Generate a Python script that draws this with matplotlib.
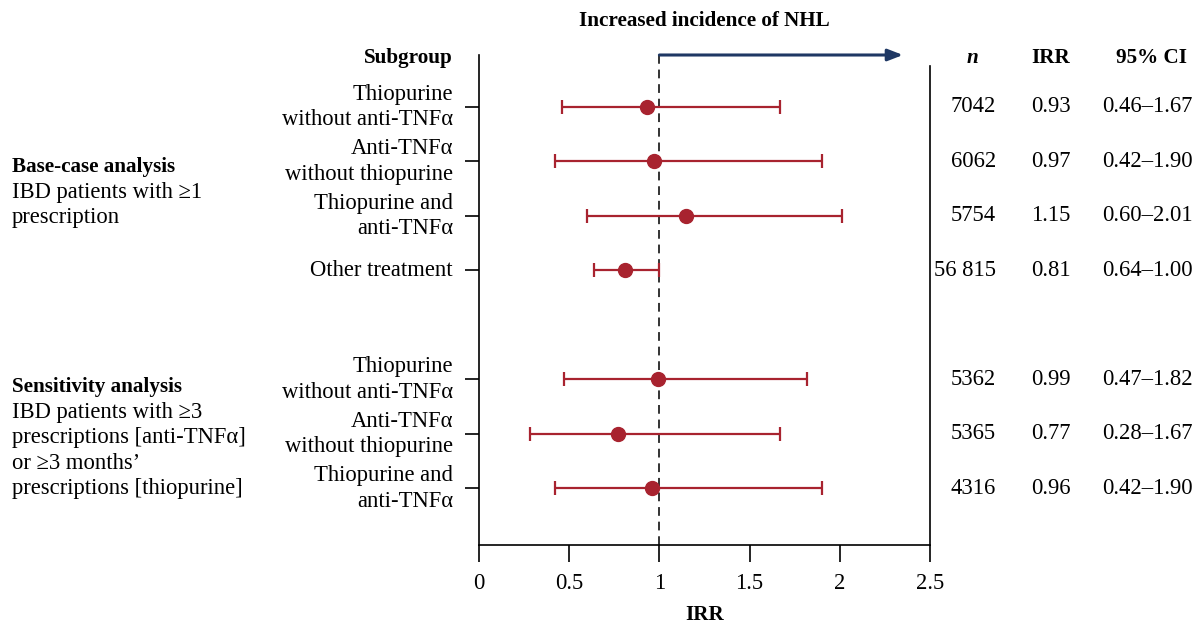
import numpy as np
import matplotlib
matplotlib.use("Agg")
import matplotlib.pyplot as plt
import matplotlib.transforms as mtransforms

plt.rcParams['font.family'] = ['Liberation Serif', 'DejaVu Serif']

red = '#a8232f'
navy = '#1f3864'

subgroups = ['Thiopurine\nwithout anti-TNFα', 'Anti-TNFα\nwithout thiopurine',
             'Thiopurine and\nanti-TNFα', 'Other treatment',
             'Thiopurine\nwithout anti-TNFα', 'Anti-TNFα\nwithout thiopurine',
             'Thiopurine and\nanti-TNFα']
rows = [0, 1, 2, 3, 5, 6, 7]
n_vals = ['7042', '6062', '5754', '56 815', '5362', '5365', '4316']
irr = [0.93, 0.97, 1.15, 0.81, 0.99, 0.77, 0.96]
ci_low = [0.46, 0.42, 0.60, 0.64, 0.47, 0.28, 0.42]
ci_high = [1.67, 1.90, 2.01, 1.00, 1.82, 1.67, 1.90]

groups = [
    (1.57, ['Base-case analysis', 'IBD patients with ≥1', 'prescription']),
    (6.07, ['Sensitivity analysis', 'IBD patients with ≥3', 'prescriptions [anti-TNFα]',
            'or ≥3 months’', 'prescriptions [thiopurine]']),
]

fs = 16.3   # regular text
fsb = 15.2  # bold text

fig = plt.figure(figsize=(12.02, 6.25), dpi=100)
ax = fig.add_axes([479 / 1202, 1 - 545 / 625, 451 / 1202, 490 / 625])

irr = np.array(irr)
err = [irr - np.array(ci_low), np.array(ci_high) - irr]
ax.errorbar(irr, rows, xerr=err, fmt='o', color=red, ecolor=red, markersize=10,
            elinewidth=1.6, capsize=5, capthick=1.6, zorder=3)
ax.axvline(1, color='#333333', ls=(0, (4.5, 3)), lw=1.4, zorder=2)

ax.set_xlim(0, 2.5)
ax.set_ylim(8.04, -0.95)
ax.set_xticks([0, 0.5, 1, 1.5, 2, 2.5])
ax.set_xticklabels(['0', '0.5', '1', '1.5', '2', '2.5'])
ax.set_yticks(rows)
ax.set_yticklabels([])
ax.tick_params(axis='x', direction='out', length=12, width=1.2, pad=8, labelsize=fs)
ax.tick_params(axis='y', direction='out', length=10, width=1.2)
ax.spines['top'].set_visible(False)
for s in ['left', 'right', 'bottom']:
    ax.spines[s].set_linewidth(1.2)
ax.spines['right'].set_bounds(8.04, -0.75)
ax.set_xlabel('IRR', fontsize=fsb, fontweight='bold', labelpad=8)

# arrow for increased incidence
ax.annotate('', xy=(2.35, -0.95), xytext=(1, -0.95), xycoords='data',
            arrowprops=dict(arrowstyle='-|>,head_length=0.9,head_width=0.35',
                            color=navy, lw=2.2, shrinkA=0, shrinkB=0),
            annotation_clip=False)
ax.text(0.5, 1.07, 'Increased incidence of NHL', transform=ax.transAxes,
        ha='center', va='center', fontsize=fsb, fontweight='bold')

fx = lambda px: px / 1202
lab_tr = mtransforms.blended_transform_factory(fig.transFigure, ax.transData)

ax.text(fx(453), -0.9, 'Subgroup', transform=lab_tr, ha='right', va='center',
        fontsize=fsb, fontweight='bold')
for r, s in zip(rows, subgroups):
    ax.text(fx(453), r, s, transform=lab_tr, ha='right', va='center',
            multialignment='right', fontsize=fs, linespacing=1.28)

# table columns
ax.text(fx(972), -0.9, 'n', transform=lab_tr, ha='center', va='center',
        fontsize=fsb, fontweight='bold', style='italic')
ax.text(fx(1051), -0.9, 'IRR', transform=lab_tr, ha='center', va='center',
        fontsize=fsb, fontweight='bold')
ax.text(fx(1152), -0.9, '95% CI', transform=lab_tr, ha='center', va='center',
        fontsize=fsb, fontweight='bold')
for r, nv, v, lo, hi in zip(rows, n_vals, irr, ci_low, ci_high):
    ax.text(fx(996), r, nv, transform=lab_tr, ha='right', va='center', fontsize=fs)
    ax.text(fx(1051), r, f'{v:.2f}', transform=lab_tr, ha='center', va='center', fontsize=fs)
    ax.text(fx(1147), r, f'{lo:.2f}–{hi:.2f}', transform=lab_tr, ha='center', va='center',
            fontsize=fs)

# group descriptions
line_h = 25.5
for yc, lines in groups:
    k = len(lines)
    for i, line in enumerate(lines):
        off = (i - (k - 1) / 2) * line_h
        tr = mtransforms.offset_copy(lab_tr, fig=fig, y=-off, units='dots')
        ax.text(fx(12), yc, line, transform=tr, ha='left', va='center',
                fontsize=fsb if i == 0 else fs,
                fontweight='bold' if i == 0 else 'normal')

fig.savefig('out.png', dpi=100)
